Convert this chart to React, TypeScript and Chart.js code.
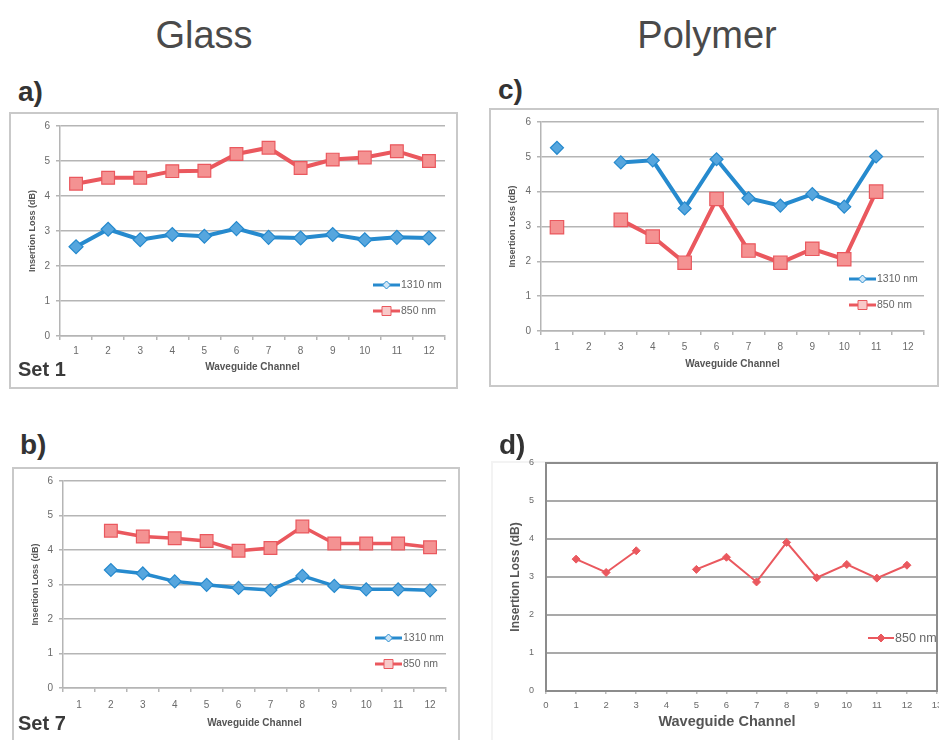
import React, { useEffect, useRef } from 'react';
import { Chart, registerables } from 'chart.js';

Chart.register(...registerables);

// ---------------- data ----------------
const channels = ['1', '2', '3', '4', '5', '6', '7', '8', '9', '10', '11', '12'];

// a) Glass, Set 1
const glassSet1_1310 = [2.55, 3.05, 2.75, 2.9, 2.85, 3.07, 2.82, 2.8, 2.9, 2.75, 2.82, 2.8];
const glassSet1_850 = [4.35, 4.52, 4.52, 4.71, 4.72, 5.2, 5.38, 4.8, 5.04, 5.1, 5.28, 5.0];

// b) Glass, Set 7
const glassSet7_1310 = [null, 3.42, 3.32, 3.09, 2.99, 2.9, 2.84, 3.25, 2.96, 2.86, 2.86, 2.83];
const glassSet7_850 = [null, 4.56, 4.39, 4.34, 4.26, 3.98, 4.06, 4.68, 4.19, 4.19, 4.19, 4.08];

// c) Polymer
const polymerC_1310 = [5.26, null, 4.84, 4.9, 3.52, 4.93, 3.81, 3.6, 3.93, 3.57, 5.01, null];
const polymerC_850 = [2.98, null, 3.19, 2.71, 1.96, 3.79, 2.31, 1.96, 2.36, 2.06, 4.0, null];

// d) Polymer (linear channel axis)
const polymerD_channels = [1, 2, 3, 4, 5, 6, 7, 8, 9, 10, 11, 12];
const polymerD_850 = [3.47, 3.12, 3.69, null, 3.2, 3.52, 2.87, 3.91, 2.98, 3.33, 2.97, 3.31];

const seriesLabels = ['1310 nm', '850 nm'];
const yMin = 0;
const yMax = 6;
const dXMin = 0;
const dXMax = 13;

// ---------------- styles ----------------
const FONT = "'Liberation Sans', Arial, sans-serif";
const BLUE = 'rgb(38,138,206)';
const BLUE_FILL = 'rgb(86,166,222)';
const RED = 'rgb(234,88,94)';
const RED_FILL = 'rgb(244,146,146)';
const GRID = '#b5b5b5';
const TICK = '#6a6a6a';
const TITLE = '#555555';

function drawMarker(ctx: CanvasRenderingContext2D, style: string, x: number, y: number, r: number, fill: string, stroke: string, lw: number) {
  ctx.beginPath();
  if (style === 'rect') {
    ctx.rect(x - r, y - r, 2 * r, 2 * r);
  } else {
    ctx.moveTo(x - r, y);
    ctx.lineTo(x, y - r);
    ctx.lineTo(x + r, y);
    ctx.lineTo(x, y + r);
    ctx.closePath();
  }
  ctx.fillStyle = fill;
  ctx.fill();
  ctx.lineWidth = lw;
  ctx.strokeStyle = stroke;
  ctx.stroke();
}

const insideLegend = {
  id: 'insideLegend',
  afterDatasetsDraw(chart: any, _args: any, opts: any) {
    if (!opts || !opts.items) return;
    const ctx = chart.ctx as CanvasRenderingContext2D;
    opts.items.forEach((it: any, i: number) => {
      const ds = chart.data.datasets[i];
      if (!ds) return;
      ctx.save();
      ctx.strokeStyle = ds.borderColor;
      ctx.lineWidth = opts.lineWidth;
      ctx.beginPath();
      ctx.moveTo(it.x, it.y);
      ctx.lineTo(it.x + opts.lineLen, it.y);
      ctx.stroke();
      drawMarker(ctx, ds.pointStyle, it.x + opts.lineLen / 2, it.y, it.r, it.fill, ds.borderColor, 1);
      ctx.fillStyle = opts.color;
      ctx.font = `${opts.size}px ${FONT}`;
      ctx.textBaseline = 'middle';
      ctx.textAlign = 'left';
      ctx.fillText(ds.label, it.x + opts.lineLen + 1, it.y + 0.5);
      ctx.restore();
    });
  },
};

const plotBorder = {
  id: 'plotBorder',
  beforeDatasetsDraw(chart: any, _args: any, opts: any) {
    if (!opts || !opts.color) return;
    const { left, top, right, bottom } = chart.chartArea;
    const ctx = chart.ctx as CanvasRenderingContext2D;
    ctx.save();
    ctx.strokeStyle = opts.color;
    ctx.lineWidth = opts.width;
    ctx.strokeRect(left, top, right - left, bottom - top);
    ctx.restore();
  },
};

Chart.register(insideLegend, plotBorder);

type Rect = { x: number; y: number; w: number; h: number };
type Plot = { l: number; t: number; r: number; b: number };

function lineDs(label: string, data: any[], color: string, fill: string, style: string, radius: number, width: number) {
  return {
    label,
    data,
    borderColor: color,
    backgroundColor: fill,
    borderWidth: width,
    pointStyle: style,
    pointRadius: radius,
    pointHoverRadius: radius,
    pointBackgroundColor: fill,
    pointBorderColor: color,
    pointBorderWidth: 1.2,
    tension: 0,
    spanGaps: false,
  };
}

function categoryConfig(p: {
  canvas: Rect;
  plot: Plot;
  datasets: any[];
  legend: any;
  xTickPad: number;
  xTitlePad: number;
  yTitlePad: number;
}) {
  const { canvas, plot } = p;
  const padTop = plot.t - canvas.y;
  const yW = plot.l - canvas.x;
  const padRight = canvas.x + canvas.w - plot.r;
  const xH = canvas.y + canvas.h - plot.b;
  return {
    type: 'line',
    data: { labels: channels, datasets: p.datasets },
    options: {
      responsive: false,
      animation: false,
      events: [],
      layout: { padding: { top: padTop, right: padRight, left: 0, bottom: 0 } },
      plugins: {
        legend: { display: false },
        tooltip: { enabled: false },
        insideLegend: p.legend,
        plotBorder: {},
      },
      scales: {
        x: {
          type: 'category',
          offset: true,
          grid: { display: true, drawOnChartArea: false, drawTicks: true, tickLength: 4, offset: true, color: GRID, lineWidth: 1.5 },
          border: { display: true, color: GRID, width: 1.5 },
          ticks: { color: TICK, font: { family: FONT, size: 10 }, padding: p.xTickPad, maxRotation: 0, autoSkip: false },
          title: { display: true, text: 'Waveguide Channel', color: TITLE, font: { family: FONT, size: 10, weight: 'bold' }, padding: { top: 0, bottom: p.xTitlePad } },
          afterFit: (s: any) => { s.height = xH; },
        },
        y: {
          min: yMin,
          max: yMax,
          ticks: { stepSize: 1, color: TICK, font: { family: FONT, size: 10 }, padding: 6 },
          grid: { color: GRID, lineWidth: 1.5, drawTicks: true, tickLength: 4 },
          border: { display: true, color: GRID, width: 1.5 },
          title: { display: true, text: 'Insertion Loss (dB)', color: TITLE, font: { family: FONT, size: 9, weight: 'bold' }, padding: { top: p.yTitlePad, bottom: 0 } },
          afterFit: (s: any) => { s.width = yW; },
        },
      },
    },
  };
}

// ---------------- panel specs ----------------
const aCanvas: Rect = { x: 10, y: 114, w: 447, h: 274 };
const aPlot: Plot = { l: 60, t: 126, r: 445, b: 336 };
const bCanvas: Rect = { x: 12, y: 469, w: 447, h: 271 };
const bPlot: Plot = { l: 63, t: 481, r: 446, b: 688 };
const cCanvas: Rect = { x: 489, y: 110, w: 449, h: 276 };
const cPlot: Plot = { l: 541, t: 122, r: 924, b: 331 };
const dCanvas: Rect = { x: 490, y: 440, w: 460, h: 300 };
const dPlot: Plot = { l: 546, t: 463, r: 937, b: 691 };

function legendItems(canvas: Rect, x: number, y1: number, y2: number) {
  return {
    lineLen: 27,
    lineWidth: 3,
    size: 10.5,
    color: '#666',
    items: [
      { x: x - canvas.x, y: y1 - canvas.y, r: 4, fill: '#cfe6f6' },
      { x: x - canvas.x, y: y2 - canvas.y, r: 4.5, fill: '#f8c9c9' },
    ],
  };
}

const configA = () =>
  categoryConfig({
    canvas: aCanvas,
    plot: aPlot,
    datasets: [
      lineDs(seriesLabels[0], glassSet1_1310, BLUE, BLUE_FILL, 'rectRot', 7, 4),
      lineDs(seriesLabels[1], glassSet1_850, RED, RED_FILL, 'rect', 9, 4),
    ],
    legend: legendItems(aCanvas, 373, 285, 311),
    xTickPad: 5,
    xTitlePad: 15,
    yTitlePad: 17,
  });

const configB = () =>
  categoryConfig({
    canvas: bCanvas,
    plot: bPlot,
    datasets: [
      lineDs(seriesLabels[0], glassSet7_1310, BLUE, BLUE_FILL, 'rectRot', 6.5, 3.5),
      lineDs(seriesLabels[1], glassSet7_850, RED, RED_FILL, 'rect', 9, 3.5),
    ],
    legend: legendItems(bCanvas, 375, 638, 664),
    xTickPad: 7,
    xTitlePad: 11,
    yTitlePad: 18,
  });

const configC = () =>
  categoryConfig({
    canvas: cCanvas,
    plot: cPlot,
    datasets: [
      lineDs(seriesLabels[0], polymerC_1310, BLUE, BLUE_FILL, 'rectRot', 6.5, 4),
      lineDs(seriesLabels[1], polymerC_850, RED, RED_FILL, 'rect', 9.5, 4),
    ],
    legend: legendItems(cCanvas, 849, 279, 305),
    xTickPad: 6,
    xTitlePad: 16,
    yTitlePad: 18,
  });

const configD = () => {
  const canvas = dCanvas;
  const plot = dPlot;
  const padTop = plot.t - canvas.y;
  const yW = plot.l - canvas.x;
  const padRight = canvas.x + canvas.w - plot.r;
  const xH = canvas.y + canvas.h - plot.b;
  return {
    type: 'line',
    data: {
      datasets: [
        {
          label: seriesLabels[1],
          data: polymerD_channels.map((c, i) => ({ x: c, y: polymerD_850[i] })),
          borderColor: RED,
          backgroundColor: RED,
          borderWidth: 2,
          pointStyle: 'rectRot',
          pointRadius: 4,
          pointHoverRadius: 4,
          pointBackgroundColor: RED,
          pointBorderColor: RED,
          pointBorderWidth: 1,
          tension: 0,
          spanGaps: false,
        },
      ],
    },
    options: {
      responsive: false,
      animation: false,
      events: [],
      layout: { padding: { top: padTop, right: padRight, left: 0, bottom: 0 } },
      plugins: {
        legend: { display: false },
        tooltip: { enabled: false },
        insideLegend: {
          lineLen: 26,
          lineWidth: 2,
          size: 12.5,
          color: '#666',
          items: [{ x: 868 - canvas.x, y: 638 - canvas.y, r: 4, fill: RED }],
        },
        plotBorder: { color: '#8c8c8c', width: 2 },
      },
      scales: {
        x: {
          type: 'linear',
          min: dXMin,
          max: dXMax,
          grid: { display: true, drawOnChartArea: false, drawTicks: true, tickLength: 3, color: '#bbbbbb', lineWidth: 1.5 },
          border: { display: true, color: '#8c8c8c', width: 2 },
          ticks: { stepSize: 1, color: TICK, font: { family: FONT, size: 9.5 }, padding: 6, maxRotation: 0, autoSkip: false },
          title: { display: false },
          afterFit: (s: any) => { s.height = xH; },
        },
        y: {
          min: yMin,
          max: yMax,
          ticks: { stepSize: 1, color: TICK, font: { family: FONT, size: 9 }, padding: 12 },
          grid: { color: '#a9a9a9', lineWidth: 2, drawTicks: false },
          border: { display: true, color: '#8c8c8c', width: 2 },
          title: { display: true, text: 'Insertion Loss (dB)', color: TITLE, font: { family: FONT, size: 12, weight: 'bold' }, padding: { top: 18, bottom: 0 } },
          afterFit: (s: any) => { s.width = yW; },
        },
      },
    },
  };
};

function ChartCanvas({ rect, make }: { rect: Rect; make: () => any }) {
  const ref = useRef<HTMLCanvasElement | null>(null);
  useEffect(() => {
    if (!ref.current) return;
    const chart = new Chart(ref.current, make());
    return () => chart.destroy();
  }, []);
  return (
    <canvas
      ref={ref}
      width={rect.w}
      height={rect.h}
      style={{ position: 'absolute', left: rect.x, top: rect.y, width: rect.w, height: rect.h }}
    />
  );
}

function Text({ x, y, size, bold, children, center, width, color }: any) {
  return (
    <div
      style={{
        position: 'absolute',
        left: center ? x - (width || 300) / 2 : x,
        top: y,
        width: center ? width || 300 : undefined,
        textAlign: center ? 'center' : 'left',
        fontFamily: FONT,
        fontSize: size,
        fontWeight: bold ? 'bold' : 'normal',
        lineHeight: 1,
        color: color || '#444',
        whiteSpace: 'nowrap',
      }}
    >
      {children}
    </div>
  );
}

function Box({ x, y, w, h, color }: any) {
  return (
    <div
      style={{
        position: 'absolute',
        left: x,
        top: y,
        width: w,
        height: h,
        boxSizing: 'border-box',
        border: `2px solid ${color}`,
      }}
    />
  );
}

export default function App() {
  return (
    <div
      style={{
        position: 'fixed',
        left: 0,
        top: 0,
        width: 939,
        height: 740,
        overflow: 'hidden',
        background: '#ffffff',
      }}
    >
      <Text x={204} y={16} size={38} center color="#4a4a4a">Glass</Text>
      <Text x={707} y={16} size={38} center color="#4a4a4a">Polymer</Text>

      <Box x={9} y={112} w={449} h={277} color="#c9c9c9" />
      <Box x={489} y={108} w={450} h={279} color="#c9c9c9" />
      <Box x={12} y={467} w={448} h={300} color="#c9c9c9" />
      <Box x={491} y={461} w={460} h={300} color="#f3f3f3" />

      <ChartCanvas rect={aCanvas} make={configA} />
      <ChartCanvas rect={cCanvas} make={configC} />
      <ChartCanvas rect={bCanvas} make={configB} />
      <ChartCanvas rect={dCanvas} make={configD} />

      <Text x={18} y={78} size={28} bold color="#333">a)</Text>
      <Text x={498} y={76} size={28} bold color="#333">c)</Text>
      <Text x={20} y={431} size={28} bold color="#333">b)</Text>
      <Text x={499} y={431} size={28} bold color="#333">d)</Text>

      <Text x={18} y={359} size={20} bold color="#3a3a3a">Set 1</Text>
      <Text x={18} y={713} size={20} bold color="#3a3a3a">Set 7</Text>

      <Text x={727} y={714} size={14.5} bold center color="#555">Waveguide Channel</Text>
    </div>
  );
}
